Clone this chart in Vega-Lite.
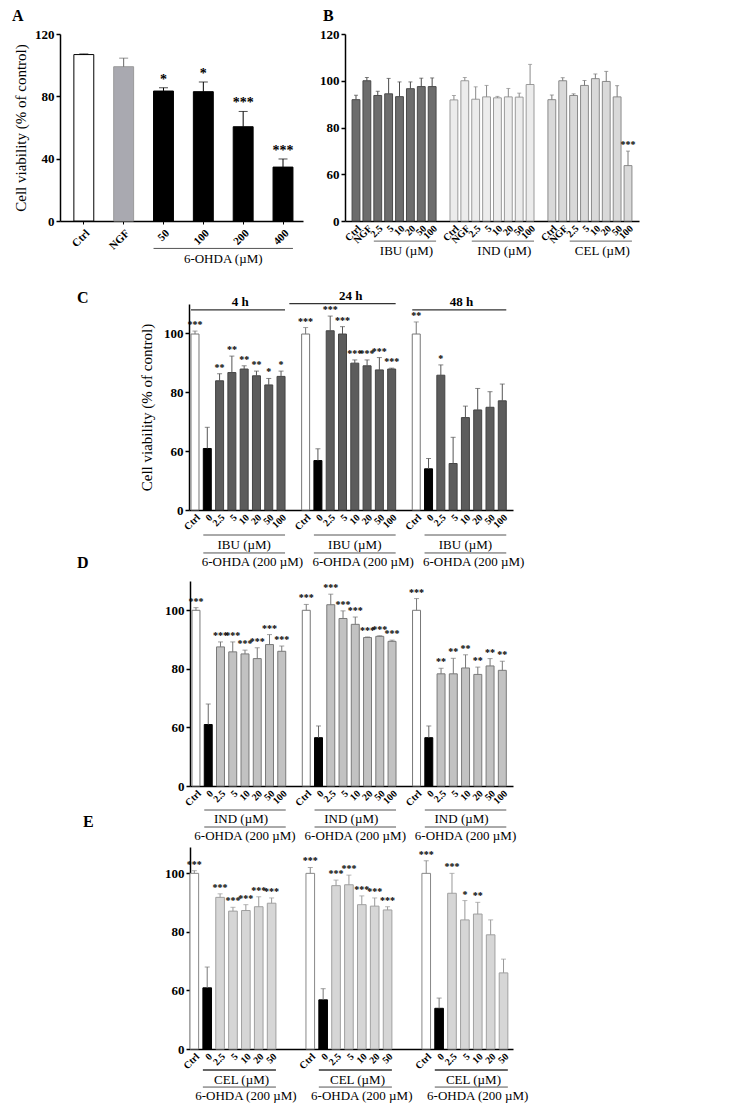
{
"$schema": "https://vega.github.io/schema/vega-lite/v6.json",
"padding": {"left": 12, "top": 8, "right": 5, "bottom": 5},
"bounds": "flush",
"spacing": 270,
"resolve": {"scale": {"fill": "independent", "stroke": "independent", "color": "independent"}},
"config": {
  "font": "Liberation Serif",
  "view": {"stroke": null},
  "axis": {"labelFont": "Liberation Serif", "titleFont": "Liberation Serif", "labelColor": "black", "titleColor": "black", "domainColor": "black", "tickColor": "black", "grid": false},
  "axisY": {"labelOverlap": false, "labelFlush": false, "labelBound": false},
  "title": {"font": "Liberation Serif", "fontSize": 16, "fontWeight": "bold", "anchor": "start", "frame": "group", "color": "black"}
},
"datasets": {
  "A": [
    {"key": "Ctrl", "kind": "ctrl", "v": 106.8, "err": 107.2, "sig": ""},
    {"key": "NGF", "kind": "ngf", "v": 99, "err": 104.5, "sig": ""},
    {"key": "50", "kind": "ohda", "v": 83.4, "err": 85.5, "sig": "*"},
    {"key": "100", "kind": "ohda", "v": 83, "err": 89.2, "sig": "*"},
    {"key": "200", "kind": "ohda", "v": 60.5, "err": 70.3, "sig": "***"},
    {"key": "400", "kind": "ohda", "v": 34.6, "err": 39.8, "sig": "***"}
  ],
  "A_ann": [{"start": "50", "end": "400", "mid": "200", "text": "6-OHDA (µM)"}],
  "B": [
    {"key": "1|Ctrl", "kind": "ibu", "v": 91.9, "err": 93.8, "sig": ""},
    {"key": "1|NGF", "kind": "ibu", "v": 100, "err": 101.4, "sig": ""},
    {"key": "1|2.5", "kind": "ibu", "v": 93.7, "err": 95.5, "sig": ""},
    {"key": "1|5", "kind": "ibu", "v": 94.4, "err": 101, "sig": ""},
    {"key": "1|10", "kind": "ibu", "v": 93.2, "err": 99.5, "sig": ""},
    {"key": "1|20", "kind": "ibu", "v": 96.6, "err": 99.5, "sig": ""},
    {"key": "1|50", "kind": "ibu", "v": 97.5, "err": 101.1, "sig": ""},
    {"key": "1|100", "kind": "ibu", "v": 97.5, "err": 101.2, "sig": ""},
    {"key": "2|Ctrl", "kind": "ind", "v": 91.8, "err": 93.7, "sig": ""},
    {"key": "2|NGF", "kind": "ind", "v": 100, "err": 101.4, "sig": ""},
    {"key": "2|2.5", "kind": "ind", "v": 92.1, "err": 97.4, "sig": ""},
    {"key": "2|5", "kind": "ind", "v": 93.1, "err": 98, "sig": ""},
    {"key": "2|10", "kind": "ind", "v": 92.7, "err": 93.3, "sig": ""},
    {"key": "2|20", "kind": "ind", "v": 93.1, "err": 96.7, "sig": ""},
    {"key": "2|50", "kind": "ind", "v": 93, "err": 94.7, "sig": ""},
    {"key": "2|100", "kind": "ind", "v": 98.4, "err": 107, "sig": ""},
    {"key": "3|Ctrl", "kind": "cel", "v": 91.9, "err": 93.9, "sig": ""},
    {"key": "3|NGF", "kind": "cel", "v": 100, "err": 101.3, "sig": ""},
    {"key": "3|2.5", "kind": "cel", "v": 93.7, "err": 94.4, "sig": ""},
    {"key": "3|5", "kind": "cel", "v": 98, "err": 100.1, "sig": ""},
    {"key": "3|10", "kind": "cel", "v": 100.9, "err": 102.9, "sig": ""},
    {"key": "3|20", "kind": "cel", "v": 99.7, "err": 104, "sig": ""},
    {"key": "3|50", "kind": "cel", "v": 93.1, "err": 97.9, "sig": ""},
    {"key": "3|100", "kind": "cel", "v": 63.7, "err": 69.9, "sig": "***"}
  ],
  "B_ann": [
    {"start": "1|2.5", "end": "1|100", "mid": "1|20", "text": "IBU (µM)"},
    {"start": "2|2.5", "end": "2|100", "mid": "2|20", "text": "IND (µM)"},
    {"start": "3|2.5", "end": "3|100", "mid": "3|20", "text": "CEL (µM)"}
  ],
  "C": [
    {"key": "1|Ctrl", "kind": "ctrl", "v": 99.8, "err": 100.8, "sig": "***"},
    {"key": "1|0", "kind": "ohda", "v": 60.9, "err": 68.1, "sig": ""},
    {"key": "1|2.5", "kind": "ibu", "v": 83.9, "err": 86.3, "sig": "**"},
    {"key": "1|5", "kind": "ibu", "v": 86.7, "err": 92.3, "sig": "**"},
    {"key": "1|10", "kind": "ibu", "v": 87.9, "err": 89, "sig": "**"},
    {"key": "1|20", "kind": "ibu", "v": 85.6, "err": 87.2, "sig": "**"},
    {"key": "1|50", "kind": "ibu", "v": 82.5, "err": 84.7, "sig": "*"},
    {"key": "1|100", "kind": "ibu", "v": 85.4, "err": 87.2, "sig": "*"},
    {"key": "2|Ctrl", "kind": "ctrl", "v": 99.8, "err": 102, "sig": "***"},
    {"key": "2|0", "kind": "ohda", "v": 56.8, "err": 60.8, "sig": ""},
    {"key": "2|2.5", "kind": "ibu", "v": 100.9, "err": 105.9, "sig": "***"},
    {"key": "2|5", "kind": "ibu", "v": 99.8, "err": 102.3, "sig": "***"},
    {"key": "2|10", "kind": "ibu", "v": 89.9, "err": 91, "sig": "***"},
    {"key": "2|20", "kind": "ibu", "v": 89, "err": 91, "sig": "***"},
    {"key": "2|50", "kind": "ibu", "v": 87.6, "err": 91.8, "sig": "***"},
    {"key": "2|100", "kind": "ibu", "v": 87.9, "err": 88.2, "sig": "***"},
    {"key": "3|Ctrl", "kind": "ctrl", "v": 99.8, "err": 103.9, "sig": "**"},
    {"key": "3|0", "kind": "ohda", "v": 54, "err": 57.5, "sig": ""},
    {"key": "3|2.5", "kind": "ibu", "v": 85.8, "err": 89.3, "sig": "*"},
    {"key": "3|5", "kind": "ibu", "v": 55.8, "err": 64.7, "sig": ""},
    {"key": "3|10", "kind": "ibu", "v": 71.4, "err": 75.3, "sig": ""},
    {"key": "3|20", "kind": "ibu", "v": 74, "err": 81.3, "sig": ""},
    {"key": "3|50", "kind": "ibu", "v": 74.9, "err": 80.2, "sig": ""},
    {"key": "3|100", "kind": "ibu", "v": 77.1, "err": 82.8, "sig": ""}
  ],
  "C_ann": [
    {"start": "1|0", "end": "1|100", "m1": "1|10", "m2": "1|20", "t1": "IBU (µM)", "t2": "6-OHDA (200 µM)"},
    {"start": "2|0", "end": "2|100", "m1": "2|10", "m2": "2|20", "t1": "IBU (µM)", "t2": "6-OHDA (200 µM)"},
    {"start": "3|0", "end": "3|100", "m1": "3|10", "m2": "3|20", "t1": "IBU (µM)", "t2": "6-OHDA (200 µM)"}
  ],
  "C_head": [
    {"start": "1|Ctrl", "end": "1|100", "mid": "1|10", "h": "4 h", "g": "a"},
    {"start": "g1", "end": "2|100", "mid": "2|10", "h": "24 h", "g": "b"},
    {"start": "3|Ctrl", "end": "3|100", "mid": "3|10", "h": "48 h", "g": "a"}
  ],
  "D": [
    {"key": "1|Ctrl", "kind": "ctrl", "v": 100, "err": 100.9, "sig": "***"},
    {"key": "1|0", "kind": "ohda", "v": 61, "err": 68, "sig": ""},
    {"key": "1|2.5", "kind": "ind", "v": 87.5, "err": 89.2, "sig": "***"},
    {"key": "1|5", "kind": "ind", "v": 85.8, "err": 89.2, "sig": "***"},
    {"key": "1|10", "kind": "ind", "v": 85.1, "err": 86.4, "sig": "***"},
    {"key": "1|20", "kind": "ind", "v": 83.5, "err": 87.2, "sig": "***"},
    {"key": "1|50", "kind": "ind", "v": 88.3, "err": 91.7, "sig": "***"},
    {"key": "1|100", "kind": "ind", "v": 86, "err": 87.8, "sig": "***"},
    {"key": "2|Ctrl", "kind": "ctrl", "v": 100, "err": 102, "sig": "***"},
    {"key": "2|0", "kind": "ohda", "v": 56.5, "err": 60.5, "sig": ""},
    {"key": "2|2.5", "kind": "ind", "v": 101.9, "err": 105.5, "sig": "***"},
    {"key": "2|5", "kind": "ind", "v": 97.2, "err": 99.8, "sig": "***"},
    {"key": "2|10", "kind": "ind", "v": 95.2, "err": 97.7, "sig": "***"},
    {"key": "2|20", "kind": "ind", "v": 90.7, "err": 90.9, "sig": "***"},
    {"key": "2|50", "kind": "ind", "v": 91.1, "err": 91.3, "sig": "***"},
    {"key": "2|100", "kind": "ind", "v": 89.4, "err": 89.8, "sig": "***"},
    {"key": "3|Ctrl", "kind": "ctrl", "v": 100, "err": 104, "sig": "***"},
    {"key": "3|0", "kind": "ohda", "v": 56.5, "err": 60.5, "sig": ""},
    {"key": "3|2.5", "kind": "ind", "v": 78.3, "err": 80.2, "sig": "**"},
    {"key": "3|5", "kind": "ind", "v": 78.3, "err": 83.6, "sig": "**"},
    {"key": "3|10", "kind": "ind", "v": 80.3, "err": 84.8, "sig": "**"},
    {"key": "3|20", "kind": "ind", "v": 78.1, "err": 80.6, "sig": "**"},
    {"key": "3|50", "kind": "ind", "v": 81, "err": 83.5, "sig": "**"},
    {"key": "3|100", "kind": "ind", "v": 79.5, "err": 82.6, "sig": "**"}
  ],
  "D_ann": [
    {"start": "1|0", "end": "1|100", "m1": "1|10", "m2": "1|10", "t1": "IND (µM)", "t2": "6-OHDA (200 µM)"},
    {"start": "2|0", "end": "2|100", "m1": "2|10", "m2": "2|10", "t1": "IND (µM)", "t2": "6-OHDA (200 µM)"},
    {"start": "3|0", "end": "3|100", "m1": "3|10", "m2": "3|10", "t1": "IND (µM)", "t2": "6-OHDA (200 µM)"}
  ],
  "E": [
    {"key": "1|Ctrl", "kind": "ctrl", "v": 100, "err": 100.9, "sig": "***"},
    {"key": "1|0", "kind": "ohda", "v": 60.9, "err": 68, "sig": ""},
    {"key": "1|2.5", "kind": "cel", "v": 91.8, "err": 93, "sig": "***"},
    {"key": "1|5", "kind": "cel", "v": 87.1, "err": 88.4, "sig": "***"},
    {"key": "1|10", "kind": "cel", "v": 87.3, "err": 89.3, "sig": "***"},
    {"key": "1|20", "kind": "cel", "v": 88.6, "err": 92, "sig": "***"},
    {"key": "1|50", "kind": "cel", "v": 89.8, "err": 91.6, "sig": "***"},
    {"key": "2|Ctrl", "kind": "ctrl", "v": 100, "err": 102, "sig": "***"},
    {"key": "2|0", "kind": "ohda", "v": 56.8, "err": 60.6, "sig": ""},
    {"key": "2|2.5", "kind": "cel", "v": 95.8, "err": 97.7, "sig": "***"},
    {"key": "2|5", "kind": "cel", "v": 96.1, "err": 99.4, "sig": "***"},
    {"key": "2|10", "kind": "cel", "v": 89.3, "err": 92.3, "sig": "***"},
    {"key": "2|20", "kind": "cel", "v": 88.8, "err": 91.6, "sig": "***"},
    {"key": "2|50", "kind": "cel", "v": 87.5, "err": 88.6, "sig": "***"},
    {"key": "3|Ctrl", "kind": "ctrl", "v": 100, "err": 104.3, "sig": "***"},
    {"key": "3|0", "kind": "ohda", "v": 53.9, "err": 57.4, "sig": ""},
    {"key": "3|2.5", "kind": "cel", "v": 93.2, "err": 100, "sig": "***"},
    {"key": "3|5", "kind": "cel", "v": 84.1, "err": 90.7, "sig": "*"},
    {"key": "3|10", "kind": "cel", "v": 86.1, "err": 90.1, "sig": "**"},
    {"key": "3|20", "kind": "cel", "v": 79, "err": 84.1, "sig": ""},
    {"key": "3|50", "kind": "cel", "v": 66, "err": 70.7, "sig": ""}
  ],
  "E_ann": [
    {"start": "1|0", "end": "1|50", "m1": "1|10", "m2": "1|10", "t1": "CEL (µM)", "t2": "6-OHDA (200 µM)"},
    {"start": "2|0", "end": "2|50", "m1": "2|10", "m2": "2|10", "t1": "CEL (µM)", "t2": "6-OHDA (200 µM)"},
    {"start": "3|0", "end": "3|50", "m1": "3|10", "m2": "3|10", "t1": "CEL (µM)", "t2": "6-OHDA (200 µM)"}
  ]
},
"vconcat": [
  {
    "hconcat": [
      {
        "width": 243, "height": 187,
        "title": {"text": "A", "dx": -48},
        "data": {"name": "A"},
        "layer": [
          {"mark": {"type": "bar", "strokeWidth": 1},
           "encoding": {
             "x": {"field": "key", "type": "nominal", "title": null,
                   "scale": {"domain": ["Ctrl", "NGF", "50", "100", "200", "400"], "paddingInner": 0.5, "paddingOuter": 0.3, "align": 0.58},
                   "axis": {"title": null, "labelAngle": -45, "tickSize": 3, "labelFontWeight": "bold", "labelFontSize": 11, "labelPadding": 3, "domainWidth": 1.5, "labelOverlap": false}},
             "y": {"field": "v", "type": "quantitative",
                   "scale": {"domain": [0, 120], "nice": false},
                   "axis": {"labelOverlap": false, "labelFlush": false, "title": "Cell viability (% of control)", "titleFontSize": 15, "titleFontWeight": "normal", "titlePadding": 6, "values": [0, 20, 40, 60, 80, 100, 120], "tickSize": 4, "labelFontWeight": "bold", "labelFontSize": 13, "domainWidth": 1.5, "tickWidth": 1.5}},
             "fill": {"field": "kind", "type": "nominal", "scale": {"domain": ["ctrl", "ngf", "ohda"], "range": ["#ffffff", "#a9a9b0", "#000000"]}, "legend": null},
             "stroke": {"field": "kind", "type": "nominal", "scale": {"domain": ["ctrl", "ngf", "ohda"], "range": ["#000000", "#9a9a9a", "#000000"]}, "legend": null}
           }},
          {"mark": {"type": "rule", "strokeWidth": 1},
           "encoding": {
             "x": {"field": "key", "type": "nominal", "title": null},
             "y": {"field": "v", "type": "quantitative"},
             "y2": {"field": "err"},
             "color": {"field": "kind", "type": "nominal", "scale": {"domain": ["ctrl", "ngf", "ohda"], "range": ["#000000", "#666666", "#000000"]}, "legend": null}
           }},
          {"mark": {"type": "tick", "orient": "horizontal", "size": 9, "thickness": 1},
           "encoding": {
             "x": {"field": "key", "type": "nominal", "title": null},
             "y": {"field": "err", "type": "quantitative"},
             "color": {"field": "kind", "type": "nominal", "scale": {"domain": ["ctrl", "ngf", "ohda"], "range": ["#000000", "#666666", "#000000"]}, "legend": null}
           }},
          {"mark": {"type": "text", "baseline": "bottom", "dy": -1, "fontSize": 14, "fontWeight": "bold", "color": "black"},
           "encoding": {
             "x": {"field": "key", "type": "nominal", "title": null},
             "y": {"field": "err", "type": "quantitative"},
             "text": {"field": "sig"}
           }},
          {"data": {"name": "A_ann"},
           "mark": {"type": "rule", "strokeWidth": 1, "color": "#555555"},
           "encoding": {
             "x": {"field": "start", "type": "nominal", "bandPosition": 0, "title": null},
             "x2": {"field": "end", "bandPosition": 1},
             "y": {"datum": -17.6}
           }},
          {"data": {"name": "A_ann"},
           "mark": {"type": "text", "fontSize": 13, "dx": -10, "baseline": "middle", "color": "black"},
           "encoding": {
             "x": {"field": "mid", "type": "nominal", "bandPosition": 0, "title": null},
             "y": {"datum": -24.2},
             "text": {"field": "text"}
           }}
        ]
      },
      {
        "width": 294, "height": 187,
        "title": {"text": "B", "dx": -22},
        "data": {"name": "B"},
        "layer": [
          {"mark": {"type": "bar", "strokeWidth": 1},
           "encoding": {
             "x": {"field": "key", "type": "nominal", "title": null,
                   "scale": {"domain": ["1|Ctrl", "1|NGF", "1|2.5", "1|5", "1|10", "1|20", "1|50", "1|100", "g1", "2|Ctrl", "2|NGF", "2|2.5", "2|5", "2|10", "2|20", "2|50", "2|100", "g2", "3|Ctrl", "3|NGF", "3|2.5", "3|5", "3|10", "3|20", "3|50", "3|100"], "paddingInner": 0.28, "paddingOuter": 0.65},
                   "axis": {"title": null, "labelAngle": -45, "ticks": false, "labelFontWeight": "bold", "labelFontSize": 10, "labelPadding": 2, "domainWidth": 1.5, "labelOverlap": false,
                            "labelExpr": "substring(datum.value, 0, 1) == 'g' ? '' : split(datum.value, '|')[1]"}},
             "y": {"field": "v", "type": "quantitative",
                   "scale": {"domain": [40, 120], "nice": false},
                   "axis": {"labelOverlap": false, "labelFlush": false, "title": null, "values": [40, 60, 80, 100, 120], "labelExpr": "datum.value == 40 ? '0' : datum.label", "tickSize": 4, "labelFontWeight": "bold", "labelFontSize": 13, "domainWidth": 1.5, "tickWidth": 1.5}},
             "y2": {"datum": 40},
             "fill": {"field": "kind", "type": "nominal", "scale": {"domain": ["ibu", "ind", "cel"], "range": ["#6d6d6d", "#ececec", "#d9d9d9"]}, "legend": null},
             "stroke": {"field": "kind", "type": "nominal", "scale": {"domain": ["ibu", "ind", "cel"], "range": ["#4a4a4a", "#9a9a9a", "#8a8a8a"]}, "legend": null}
           }},
          {"mark": {"type": "rule", "strokeWidth": 1},
           "encoding": {
             "x": {"field": "key", "type": "nominal", "title": null},
             "y": {"field": "v", "type": "quantitative"},
             "y2": {"field": "err"},
             "color": {"field": "kind", "type": "nominal", "scale": {"domain": ["ibu", "ind", "cel"], "range": ["#4a4a4a", "#8a8a8a", "#7a7a7a"]}, "legend": null}
           }},
          {"mark": {"type": "tick", "orient": "horizontal", "size": 4, "thickness": 1},
           "encoding": {
             "x": {"field": "key", "type": "nominal", "title": null},
             "y": {"field": "err", "type": "quantitative"},
             "color": {"field": "kind", "type": "nominal", "scale": {"domain": ["ibu", "ind", "cel"], "range": ["#4a4a4a", "#8a8a8a", "#7a7a7a"]}, "legend": null}
           }},
          {"mark": {"type": "text", "baseline": "bottom", "dy": -1, "fontSize": 10, "fontWeight": "bold", "color": "black"},
           "encoding": {
             "x": {"field": "key", "type": "nominal", "title": null},
             "y": {"field": "err", "type": "quantitative"},
             "text": {"field": "sig"}
           }},
          {"data": {"name": "B_ann"},
           "mark": {"type": "rule", "strokeWidth": 1, "color": "#666666"},
           "encoding": {
             "x": {"field": "start", "type": "nominal", "bandPosition": 0, "title": null},
             "x2": {"field": "end", "bandPosition": 1},
             "y": {"datum": 31.4}
           }},
          {"data": {"name": "B_ann"},
           "mark": {"type": "text", "fontSize": 13, "baseline": "middle", "color": "black"},
           "encoding": {
             "x": {"field": "mid", "type": "nominal", "bandPosition": 0, "title": null},
             "y": {"datum": 27},
             "text": {"field": "text"}
           }}
        ]
      }
    ],
    "spacing": 42,
    "bounds": "flush",
    "resolve": {"scale": {"fill": "independent", "stroke": "independent", "color": "independent"}}
  },
  {
    "vconcat": [
      {
        "width": 453, "height": 206,
        "title": {"text": "C", "dx": 17, "dy": 20},
        "data": {"name": "C"},
        "layer": [
          {"mark": {"type": "bar", "strokeWidth": 1},
           "encoding": {
             "x": {"field": "key", "type": "nominal", "title": null,
                   "scale": {"domain": ["1|Ctrl", "1|0", "1|2.5", "1|5", "1|10", "1|20", "1|50", "1|100", "g1", "2|Ctrl", "2|0", "2|2.5", "2|5", "2|10", "2|20", "2|50", "2|100", "g2", "3|Ctrl", "3|0", "3|2.5", "3|5", "3|10", "3|20", "3|50", "3|100"], "paddingInner": 0.35, "paddingOuter": 0.355, "align": 0.23, "rangeMin": 129},
                   "axis": {"title": null, "labelAngle": -45, "ticks": false, "labelFontWeight": "bold", "labelFontSize": 10, "labelPadding": 2, "domainWidth": 1.5, "labelOverlap": false,
                            "labelExpr": "substring(datum.value, 0, 1) == 'g' ? '' : split(datum.value, '|')[1]"}},
             "y": {"field": "v", "type": "quantitative",
                   "scale": {"domain": [40, 110], "nice": false},
                   "axis": {"labelOverlap": false, "labelFlush": false, "offset": -129, "title": "Cell viability (% of control)", "titleFontSize": 15, "titleFontWeight": "normal", "titlePadding": 9, "values": [40, 60, 80, 100], "labelExpr": "datum.value == 40 ? '0' : datum.label", "tickSize": 4, "labelFontWeight": "bold", "labelFontSize": 13, "domainWidth": 1.5, "tickWidth": 1.5}},
             "y2": {"datum": 40},
             "fill": {"field": "kind", "type": "nominal", "scale": {"domain": ["ctrl", "ohda", "ibu"], "range": ["#ffffff", "#000000", "#5c5c5c"]}, "legend": null},
             "stroke": {"field": "kind", "type": "nominal", "scale": {"domain": ["ctrl", "ohda", "ibu"], "range": ["#777777", "#000000", "#444444"]}, "legend": null}
           }},
          {"mark": {"type": "rule", "strokeWidth": 1},
           "encoding": {
             "x": {"field": "key", "type": "nominal", "title": null},
             "y": {"field": "v", "type": "quantitative"},
             "y2": {"field": "err"},
             "color": {"field": "kind", "type": "nominal", "scale": {"domain": ["ctrl", "ohda", "ibu"], "range": ["#777777", "#555555", "#555555"]}, "legend": null}
           }},
          {"mark": {"type": "tick", "orient": "horizontal", "size": 5, "thickness": 1},
           "encoding": {
             "x": {"field": "key", "type": "nominal", "title": null},
             "y": {"field": "err", "type": "quantitative"},
             "color": {"field": "kind", "type": "nominal", "scale": {"domain": ["ctrl", "ohda", "ibu"], "range": ["#777777", "#555555", "#555555"]}, "legend": null}
           }},
          {"mark": {"type": "text", "baseline": "bottom", "dy": -1, "fontSize": 10, "fontWeight": "bold", "color": "black"},
           "encoding": {
             "x": {"field": "key", "type": "nominal", "title": null},
             "y": {"field": "err", "type": "quantitative"},
             "text": {"field": "sig"}
           }},
          {"data": {"name": "C_head"}, "transform": [{"filter": "datum.g == 'a'"}],
           "mark": {"type": "rule", "strokeWidth": 1.2, "color": "#333333"},
           "encoding": {
             "x": {"field": "start", "type": "nominal", "bandPosition": 0, "title": null},
             "x2": {"field": "end", "bandPosition": 1},
             "y": {"datum": 108}
           }},
          {"data": {"name": "C_head"}, "transform": [{"filter": "datum.g == 'a'"}],
           "mark": {"type": "text", "fontSize": 13, "fontWeight": "bold", "baseline": "middle", "color": "black"},
           "encoding": {
             "x": {"field": "mid", "type": "nominal", "bandPosition": 0, "title": null},
             "y": {"datum": 110.6},
             "text": {"field": "h"}
           }},
          {"data": {"name": "C_head"}, "transform": [{"filter": "datum.g == 'b'"}],
           "mark": {"type": "rule", "strokeWidth": 1.2, "color": "#333333"},
           "encoding": {
             "x": {"field": "start", "type": "nominal", "bandPosition": 0, "title": null},
             "x2": {"field": "end", "bandPosition": 1},
             "y": {"datum": 110.1}
           }},
          {"data": {"name": "C_head"}, "transform": [{"filter": "datum.g == 'b'"}],
           "mark": {"type": "text", "fontSize": 13, "fontWeight": "bold", "baseline": "middle", "color": "black"},
           "encoding": {
             "x": {"field": "mid", "type": "nominal", "bandPosition": 0, "title": null},
             "y": {"datum": 112.7},
             "text": {"field": "h"}
           }},
          {"data": {"name": "C_ann"},
           "mark": {"type": "rule", "strokeWidth": 1, "color": "#555555"},
           "encoding": {
             "x": {"field": "start", "type": "nominal", "bandPosition": 0, "title": null},
             "x2": {"field": "end", "bandPosition": 1},
             "y": {"datum": 31.5}
           }},
          {"data": {"name": "C_ann"},
           "mark": {"type": "text", "fontSize": 13, "baseline": "middle", "color": "black"},
           "encoding": {
             "x": {"field": "m1", "type": "nominal", "bandPosition": 0.5, "title": null},
             "y": {"datum": 28.1},
             "text": {"field": "t1"}
           }},
          {"data": {"name": "C_ann"},
           "mark": {"type": "rule", "strokeWidth": 1, "color": "#555555"},
           "encoding": {
             "x": {"field": "start", "type": "nominal", "bandPosition": 0, "title": null},
             "x2": {"field": "end", "bandPosition": 1},
             "y": {"datum": 25.4}
           }},
          {"data": {"name": "C_ann"},
           "mark": {"type": "text", "fontSize": 13, "baseline": "middle", "color": "black"},
           "encoding": {
             "x": {"field": "m2", "type": "nominal", "bandPosition": 0, "title": null},
             "y": {"datum": 22.3},
             "text": {"field": "t2"}
           }}
        ]
      },
      {
        "vconcat": [
          {
            "width": 453, "height": 205,
            "title": {"text": "D", "dx": 17, "dy": -6},
            "data": {"name": "D"},
            "layer": [
              {"mark": {"type": "bar", "strokeWidth": 1},
               "encoding": {
                 "x": {"field": "key", "type": "nominal", "title": null,
                       "scale": {"domain": ["1|Ctrl", "1|0", "1|2.5", "1|5", "1|10", "1|20", "1|50", "1|100", "g1", "2|Ctrl", "2|0", "2|2.5", "2|5", "2|10", "2|20", "2|50", "2|100", "g2", "3|Ctrl", "3|0", "3|2.5", "3|5", "3|10", "3|20", "3|50", "3|100"], "paddingInner": 0.35, "paddingOuter": 0.355, "align": 0.23, "rangeMin": 130},
                       "axis": {"title": null, "labelAngle": -45, "ticks": false, "labelFontWeight": "bold", "labelFontSize": 10, "labelPadding": 2, "domainWidth": 1.5, "labelOverlap": false,
                                "labelExpr": "substring(datum.value, 0, 1) == 'g' ? '' : split(datum.value, '|')[1]"}},
                 "y": {"field": "v", "type": "quantitative",
                       "scale": {"domain": [40, 110], "nice": false},
                       "axis": {"labelOverlap": false, "labelFlush": false, "offset": -130, "title": null, "values": [40, 60, 80, 100], "labelExpr": "datum.value == 40 ? '0' : datum.label", "tickSize": 4, "labelFontWeight": "bold", "labelFontSize": 13, "domainWidth": 1.5, "tickWidth": 1.5}},
                 "y2": {"datum": 40},
                 "fill": {"field": "kind", "type": "nominal", "scale": {"domain": ["ctrl", "ohda", "ind"], "range": ["#ffffff", "#000000", "#c2c2c2"]}, "legend": null},
                 "stroke": {"field": "kind", "type": "nominal", "scale": {"domain": ["ctrl", "ohda", "ind"], "range": ["#777777", "#000000", "#7a7a7a"]}, "legend": null}
               }},
              {"mark": {"type": "rule", "strokeWidth": 1},
               "encoding": {
                 "x": {"field": "key", "type": "nominal", "title": null},
                 "y": {"field": "v", "type": "quantitative"},
                 "y2": {"field": "err"},
                 "color": {"field": "kind", "type": "nominal", "scale": {"domain": ["ctrl", "ohda", "ind"], "range": ["#777777", "#666666", "#777777"]}, "legend": null}
               }},
              {"mark": {"type": "tick", "orient": "horizontal", "size": 5, "thickness": 1},
               "encoding": {
                 "x": {"field": "key", "type": "nominal", "title": null},
                 "y": {"field": "err", "type": "quantitative"},
                 "color": {"field": "kind", "type": "nominal", "scale": {"domain": ["ctrl", "ohda", "ind"], "range": ["#777777", "#666666", "#777777"]}, "legend": null}
               }},
              {"mark": {"type": "text", "baseline": "bottom", "dy": -1, "fontSize": 10, "fontWeight": "bold", "color": "black"},
               "encoding": {
                 "x": {"field": "key", "type": "nominal", "title": null},
                 "y": {"field": "err", "type": "quantitative"},
                 "text": {"field": "sig"}
               }},
              {"data": {"name": "D_ann"},
               "mark": {"type": "rule", "strokeWidth": 1, "color": "#555555"},
               "encoding": {
                 "x": {"field": "start", "type": "nominal", "bandPosition": 0, "title": null},
                 "x2": {"field": "end", "bandPosition": 1},
                 "y": {"datum": 31.8}
               }},
              {"data": {"name": "D_ann"},
               "mark": {"type": "text", "fontSize": 13, "baseline": "middle", "color": "black"},
               "encoding": {
                 "x": {"field": "m1", "type": "nominal", "bandPosition": 0, "title": null},
                 "y": {"datum": 28.7},
                 "text": {"field": "t1"}
               }},
              {"data": {"name": "D_ann"},
               "mark": {"type": "rule", "strokeWidth": 1, "color": "#555555"},
               "encoding": {
                 "x": {"field": "start", "type": "nominal", "bandPosition": 0, "title": null},
                 "x2": {"field": "end", "bandPosition": 1},
                 "y": {"datum": 26}
               }},
              {"data": {"name": "D_ann"},
               "mark": {"type": "text", "fontSize": 13, "baseline": "middle", "color": "black"},
               "encoding": {
                 "x": {"field": "m2", "type": "nominal", "bandPosition": 0.5, "title": null},
                 "y": {"datum": 22.9},
                 "text": {"field": "t2"}
               }}
            ]
          },
          {
            "width": 453, "height": 202,
            "title": {"text": "E", "dx": 23, "dy": -13},
            "data": {"name": "E"},
            "layer": [
              {"mark": {"type": "bar", "strokeWidth": 1},
               "encoding": {
                 "x": {"field": "key", "type": "nominal", "title": null,
                       "scale": {"domain": ["1|Ctrl", "1|0", "1|2.5", "1|5", "1|10", "1|20", "1|50", "g1a", "g1b", "2|Ctrl", "2|0", "2|2.5", "2|5", "2|10", "2|20", "2|50", "g2a", "g2b", "3|Ctrl", "3|0", "3|2.5", "3|5", "3|10", "3|20", "3|50"], "paddingInner": 0.33, "paddingOuter": 0.2, "align": 0, "rangeMin": 130},
                       "axis": {"title": null, "labelAngle": -45, "ticks": false, "labelFontWeight": "bold", "labelFontSize": 10, "labelPadding": 2, "domainWidth": 1.5, "labelOverlap": false,
                                "labelExpr": "substring(datum.value, 0, 1) == 'g' ? '' : split(datum.value, '|')[1]"}},
                 "y": {"field": "v", "type": "quantitative",
                       "scale": {"domain": [40, 109], "nice": false},
                       "axis": {"labelOverlap": false, "labelFlush": false, "offset": -130, "title": null, "values": [40, 60, 80, 100], "labelExpr": "datum.value == 40 ? '0' : datum.label", "tickSize": 4, "labelFontWeight": "bold", "labelFontSize": 13, "domainWidth": 1.5, "tickWidth": 1.5}},
                 "y2": {"datum": 40},
                 "fill": {"field": "kind", "type": "nominal", "scale": {"domain": ["ctrl", "ohda", "cel"], "range": ["#ffffff", "#000000", "#d6d6d6"]}, "legend": null},
                 "stroke": {"field": "kind", "type": "nominal", "scale": {"domain": ["ctrl", "ohda", "cel"], "range": ["#888888", "#000000", "#a0a0a0"]}, "legend": null}
               }},
              {"mark": {"type": "rule", "strokeWidth": 1},
               "encoding": {
                 "x": {"field": "key", "type": "nominal", "title": null},
                 "y": {"field": "v", "type": "quantitative"},
                 "y2": {"field": "err"},
                 "color": {"field": "kind", "type": "nominal", "scale": {"domain": ["ctrl", "ohda", "cel"], "range": ["#888888", "#777777", "#999999"]}, "legend": null}
               }},
              {"mark": {"type": "tick", "orient": "horizontal", "size": 5, "thickness": 1},
               "encoding": {
                 "x": {"field": "key", "type": "nominal", "title": null},
                 "y": {"field": "err", "type": "quantitative"},
                 "color": {"field": "kind", "type": "nominal", "scale": {"domain": ["ctrl", "ohda", "cel"], "range": ["#888888", "#777777", "#999999"]}, "legend": null}
               }},
              {"mark": {"type": "text", "baseline": "bottom", "dy": -1, "fontSize": 10, "fontWeight": "bold", "color": "black"},
               "encoding": {
                 "x": {"field": "key", "type": "nominal", "title": null},
                 "y": {"field": "err", "type": "quantitative"},
                 "text": {"field": "sig"}
               }},
              {"data": {"name": "E_ann"},
               "mark": {"type": "rule", "strokeWidth": 1.5, "color": "#333333"},
               "encoding": {
                 "x": {"field": "start", "type": "nominal", "bandPosition": 0, "title": null},
                 "x2": {"field": "end", "bandPosition": 1},
                 "y": {"datum": 32.8}
               }},
              {"data": {"name": "E_ann"},
               "mark": {"type": "text", "fontSize": 13, "baseline": "middle", "color": "black"},
               "encoding": {
                 "x": {"field": "m1", "type": "nominal", "bandPosition": 0, "title": null},
                 "y": {"datum": 29.4},
                 "text": {"field": "t1"}
               }},
              {"data": {"name": "E_ann"},
               "mark": {"type": "rule", "strokeWidth": 1, "color": "#555555"},
               "encoding": {
                 "x": {"field": "start", "type": "nominal", "bandPosition": 0, "title": null},
                 "x2": {"field": "end", "bandPosition": 1},
                 "y": {"datum": 27}
               }},
              {"data": {"name": "E_ann"},
               "mark": {"type": "text", "fontSize": 13, "baseline": "middle", "color": "black"},
               "encoding": {
                 "x": {"field": "m2", "type": "nominal", "bandPosition": 0.5, "title": null},
                 "y": {"datum": 23.9},
                 "text": {"field": "t2"}
               }}
            ]
          }
        ],
        "spacing": 61,
        "bounds": "flush",
        "resolve": {"scale": {"fill": "independent", "stroke": "independent", "color": "independent"}}
      }
    ],
    "spacing": 71,
    "bounds": "flush",
    "resolve": {"scale": {"fill": "independent", "stroke": "independent", "color": "independent"}}
  }
]
}
